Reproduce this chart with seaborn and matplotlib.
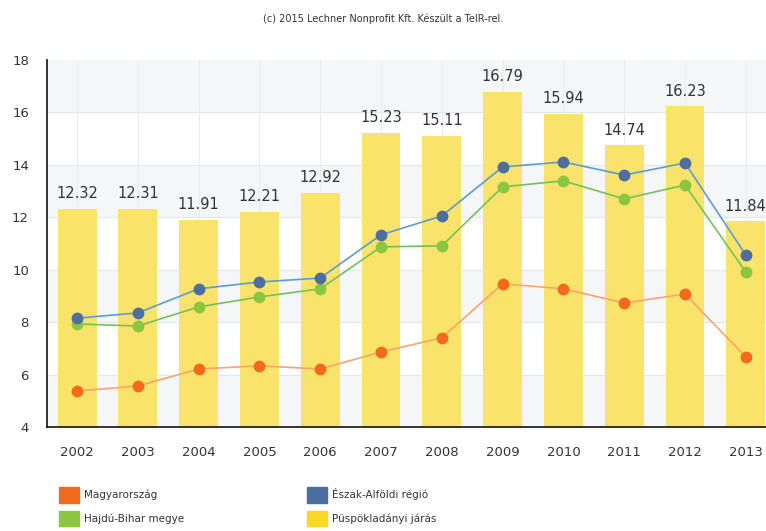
import numpy as np
import pandas as pd
import matplotlib
matplotlib.use('Agg')
import matplotlib.pyplot as plt
import seaborn as sns
from matplotlib.patches import Patch

years = ['2002', '2003', '2004', '2005', '2006', '2007',
         '2008', '2009', '2010', '2011', '2012', '2013']
puspokladany = [12.32, 12.31, 11.91, 12.21, 12.92, 15.23,
                15.11, 16.79, 15.94, 14.74, 16.23, 11.84]
eszak_alfold = [8.15, 8.35, 9.27, 9.53, 9.68, 11.33,
                12.05, 13.92, 14.11, 13.61, 14.07, 10.56]
hajdu_bihar = [7.93, 7.85, 8.58, 8.96, 9.27, 10.87,
               10.91, 13.16, 13.39, 12.70, 13.23, 9.91]
magyarorszag = [5.37, 5.56, 6.21, 6.33, 6.21, 6.86,
                7.40, 9.46, 9.27, 8.73, 9.07, 6.67]

bar_color = '#FAE36A'
# (line colour, marker colour)
series = [
    ('Magyarország', magyarorszag, '#F9A46E', '#F26B1D'),
    ('Hajdú-Bihar megye', hajdu_bihar, '#74C05A', '#8CC63E'),
    ('Észak-Alföldi régió', eszak_alfold, '#5C9BD5', '#4F6EA0'),
]

sns.set_style('white')
plt.rcParams['font.family'] = ['DejaVu Sans']

fig = plt.figure(figsize=(7.66, 5.31), dpi=100)
ax = fig.add_axes([0.0614, 0.196, 0.94, 0.691])

# alternating background bands
for lo in [4, 8, 12, 16]:
    ax.axhspan(lo, lo + 2, color='#F5F6F8', zorder=0, lw=0)
for v in [6, 8, 10, 12, 14, 16]:
    ax.axhline(v, color='#E0E8EF', lw=0.8, zorder=0.5)
for i in range(len(years)):
    ax.axvline(i, color='#E6ECF1', lw=0.8, zorder=0.5)

sns.barplot(x=years, y=puspokladany, color=bar_color, width=0.64,
            saturation=1, linewidth=0, ax=ax, zorder=1)
for i, v in enumerate(puspokladany):
    ax.text(i, v + 0.3, f'{v:.2f}', ha='center', va='bottom',
            fontsize=10.5, color='#333333', zorder=5)

xs = np.arange(len(years))
for name, vals, lc, mc in series:
    sns.lineplot(x=xs, y=vals, ax=ax, color=lc, lw=1.2, zorder=3)
    ax.plot(xs, vals, ls='none', marker='o', ms=7.5, mfc=mc, mec=mc, zorder=4)

ax.set_ylim(4, 18)
ax.set_xlim(-0.494, 11.35)
ax.set_yticks([4, 6, 8, 10, 12, 14, 16, 18])
ax.set_xticks(xs)
ax.set_xticklabels(years)
ax.set_xlabel('')
ax.set_ylabel('')
for s in ['top', 'right']:
    ax.spines[s].set_visible(False)
for s in ['left', 'bottom']:
    ax.spines[s].set_color('#111111')
    ax.spines[s].set_linewidth(1.2)
ax.tick_params(axis='both', direction='out', length=5, width=1,
               colors='#111111', labelcolor='#333333', labelsize=9.5)
ax.tick_params(axis='x', pad=9)
ax.tick_params(axis='y', pad=8)

fig.text(0.5, 0.965, '(c) 2015 Lechner Nonprofit Kft. Készült a TeIR-rel.',
         ha='center', va='center', fontsize=7, color='#333333')

handles = [Patch(color='#F26B1D', label='Magyarország'),
           Patch(color='#8CC63E', label='Hajdú-Bihar megye'),
           Patch(color='#4F6EA0', label='Észak-Alföldi régió'),
           Patch(color='#F9D923', label='Püspökladányi járás')]
fig.legend(handles=handles, loc='upper left', bbox_to_anchor=(0.065, 0.1),
           ncol=2, frameon=False, fontsize=7.5, handlelength=1.9,
           handleheight=1.9, columnspacing=11.8, labelspacing=0.75,
           handletextpad=0.5, labelcolor='#333333')

fig.savefig('out.png', dpi=100)
